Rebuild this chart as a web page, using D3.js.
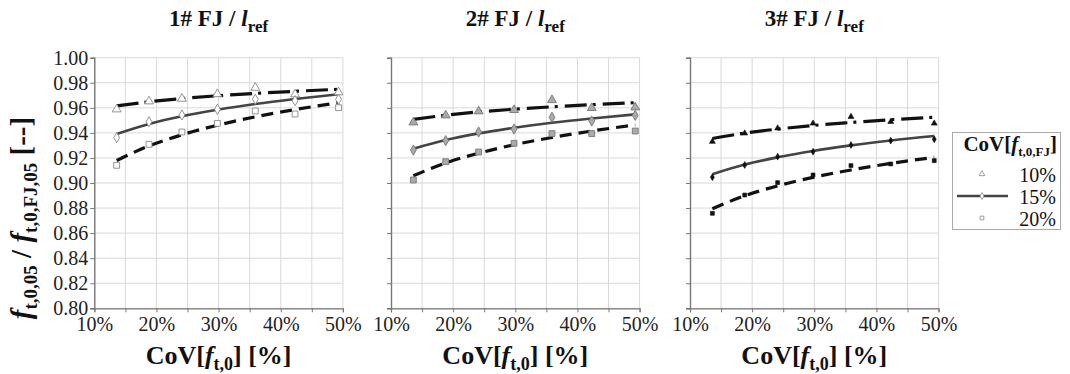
<!DOCTYPE html>
<html><head><meta charset="utf-8">
<script src="https://cdn.jsdelivr.net/npm/d3@7"></script>
<style>
html,body{margin:0;padding:0;background:#fff;}
svg{display:block;}
svg text{font-family:"Liberation Serif","Times New Roman",serif !important;}
</style></head>
<body>
<svg id="c" width="1070" height="374"></svg>
<script>
// ---------- data ----------
const panels = ["1#", "2#", "3#"];
const seriesNames = ["10%", "15%", "20%"];
const covX = [13.6, 18.8, 24.1, 29.8, 35.9, 42.3, 49.3];
// points (marker values) per panel
const p1_10 = [0.9588, 0.9652, 0.9673, 0.9710, 0.9761, 0.9708, 0.9724];
const p1_15 = [0.9362, 0.9489, 0.9543, 0.9588, 0.9668, 0.9657, 0.9668];
const p1_20 = [0.9141, 0.9309, 0.9407, 0.9476, 0.9575, 0.9551, 0.9601];
const p2_10 = [0.9484, 0.9540, 0.9572, 0.9583, 0.9662, 0.9599, 0.9604];
const p2_15 = [0.9263, 0.9338, 0.9407, 0.9431, 0.9524, 0.9495, 0.9540];
const p2_20 = [0.9024, 0.9170, 0.9247, 0.9317, 0.9394, 0.9394, 0.9415];
const p3_10 = [0.9330, 0.9397, 0.9437, 0.9476, 0.9529, 0.9489, 0.9476];
const p3_15 = [0.9046, 0.9144, 0.9210, 0.9250, 0.9303, 0.9338, 0.9349];
const p3_20 = [0.8758, 0.8904, 0.9003, 0.9064, 0.9139, 0.9152, 0.9178];
// trend lines read at the same CoV positions
const t1_10 = [0.9615, 0.9648, 0.9674, 0.9696, 0.9715, 0.9732, 0.9748];
const t1_15 = [0.9391, 0.9471, 0.9532, 0.9584, 0.9630, 0.9670, 0.9708];
const t1_20 = [0.9180, 0.9296, 0.9385, 0.9461, 0.9528, 0.9586, 0.9641];
const t2_10 = [0.9508, 0.9541, 0.9567, 0.9589, 0.9608, 0.9625, 0.9641];
const t2_15 = [0.9274, 0.9343, 0.9396, 0.9441, 0.9481, 0.9515, 0.9548];
const t2_20 = [0.9058, 0.9160, 0.9238, 0.9305, 0.9363, 0.9415, 0.9463];
const t3_10 = [0.9355, 0.9398, 0.9430, 0.9459, 0.9483, 0.9505, 0.9525];
const t3_15 = [0.9070, 0.9147, 0.9205, 0.9256, 0.9300, 0.9339, 0.9375];
const t3_20 = [0.8795, 0.8898, 0.8977, 0.9045, 0.9104, 0.9156, 0.9205];
const yTicks = [0.80, 0.82, 0.84, 0.86, 0.88, 0.90, 0.92, 0.94, 0.96, 0.98, 1.00];
const xTickLabels = [10, 20, 30, 40, 50];
const xGrid = [10, 15, 20, 25, 30, 35, 40, 45, 50];

const pointSets = [[p1_10, p1_15, p1_20], [p2_10, p2_15, p2_20], [p3_10, p3_15, p3_20]];
const trendSets = [[t1_10, t1_15, t1_20], [t2_10, t2_15, t2_20], [t3_10, t3_15, t3_20]];

// ---------- layout / style ----------
const FONT = '"Liberation Serif","Times New Roman",serif';
const svg = d3.select("#c").attr("font-family", FONT);
const lefts = [94.3, 391, 690];
const plotW = 248.6;
const yTop = 57.7, yBot = 308.3;
const y = d3.scaleLinear().domain([0.80, 1.00]).range([yBot, yTop]);

const lineStyles = [
  {stroke: "#111", width: 3.2, dash: "22,6,3,7"},
  {stroke: "#444", width: 2.6, dash: null},
  {stroke: "#111", width: 3.2, dash: "12,7"}
];
const symTypes = [d3.symbolTriangle, d3.symbolDiamond, d3.symbolSquare];
const symSizes = [34, 30, 34];
const markerStyles = [
  {fill: "#fff", stroke: "#888", sw: 0.9, scale: 1},
  {fill: "#aaa", stroke: "#777", sw: 0.9, scale: 1},
  {fill: "#111", stroke: "#111", sw: 0.6, scale: 0.45}
];

panels.forEach((name, pi) => {
  const x0 = lefts[pi];
  const x = d3.scaleLinear().domain([10, 50]).range([x0, x0 + plotW]);
  const g = svg.append("g");

  // grid
  g.selectAll(".hg").data(yTicks).join("line")
    .attr("x1", x0).attr("x2", x0 + plotW)
    .attr("y1", d => y(d)).attr("y2", d => y(d))
    .attr("stroke", "#d9d9d9").attr("stroke-width", 1);
  g.selectAll(".vg").data(xGrid.slice(1)).join("line")
    .attr("x1", d => x(d)).attr("x2", d => x(d))
    .attr("y1", yTop).attr("y2", yBot)
    .attr("stroke", "#d9d9d9").attr("stroke-width", 1);

  // y axis
  const ya = g.append("g").attr("transform", `translate(${x0},0)`)
    .call(d3.axisLeft(y).tickValues(yTicks).tickSize(4)
      .tickFormat(pi === 0 ? d3.format(".2f") : () => ""));
  ya.attr("font-family", FONT);
  ya.select(".domain").attr("stroke", "#777").attr("stroke-width", 1.4);
  ya.selectAll(".tick line").attr("stroke", "#777");
  ya.selectAll(".tick text").attr("font-size", 20).attr("fill", "#222").attr("x", -6);

  // x axis
  const xa = g.append("g").attr("transform", `translate(0,${yBot})`)
    .call(d3.axisBottom(x).tickValues(xGrid).tickSize(4)
      .tickFormat(d => xTickLabels.includes(d) ? d + "%" : ""));
  xa.attr("font-family", FONT);
  xa.select(".domain").attr("stroke", "#777").attr("stroke-width", 1.2);
  xa.selectAll(".tick line").attr("stroke", "#777");
  xa.selectAll(".tick text").attr("font-size", 20).attr("fill", "#222").attr("y", 9);

  // trend lines
  const line = d3.line().x((d, i) => x(covX[i])).y(d => y(d)).curve(d3.curveMonotoneX);
  trendSets[pi].forEach((vals, si) => {
    const st = lineStyles[si];
    g.append("path").attr("d", line(vals)).attr("fill", "none")
      .attr("stroke", st.stroke).attr("stroke-width", st.width)
      .attr("stroke-dasharray", st.dash);
  });

  // markers
  const ms = markerStyles[pi];
  pointSets[pi].forEach((vals, si) => {
    const sym = d3.symbol().type(symTypes[si]).size(symSizes[si] * ms.scale);
    g.selectAll(null).data(vals).join("path")
      .attr("transform", (d, i) => `translate(${x(covX[i])},${y(d)})`)
      .attr("d", sym).attr("fill", ms.fill).attr("stroke", ms.stroke)
      .attr("stroke-width", ms.sw);
  });

  // title
  const cx = x0 + plotW / 2;
  const t = svg.append("text").attr("x", cx).attr("y", 26)
    .attr("text-anchor", "middle").attr("font-size", 23).attr("font-weight", "bold").attr("fill", "#111");
  t.append("tspan").text(name + " FJ / ");
  t.append("tspan").attr("font-style", "italic").text("l");
  t.append("tspan").attr("font-size", 17).attr("dy", 6).text("ref");

  // x label
  const xl = svg.append("text").attr("x", cx).attr("y", 364)
    .attr("text-anchor", "middle").attr("font-size", 26).attr("font-weight", "bold").attr("fill", "#111");
  xl.append("tspan").text("CoV[");
  xl.append("tspan").attr("font-style", "italic").text("f");
  xl.append("tspan").attr("font-size", 18).attr("dy", 6).text("t,0");
  xl.append("tspan").attr("dy", -6).text("] [%]");
});

// y label
const yl = svg.append("text").attr("transform", "translate(31,218) rotate(-90)")
  .attr("text-anchor", "middle").attr("font-size", 29).attr("font-weight", "bold").attr("fill", "#111");
yl.append("tspan").attr("font-style", "italic").text("f");
yl.append("tspan").attr("font-size", 19).attr("dy", 6).text("t,0,05");
yl.append("tspan").attr("dy", -6).text(" / ");
yl.append("tspan").attr("font-style", "italic").text("f");
yl.append("tspan").attr("font-size", 19).attr("dy", 6).text("t,0,FJ,05");
yl.append("tspan").attr("dy", -6).text(" [--]");

// legend
const lg = svg.append("g");
lg.append("rect").attr("x", 952.5).attr("y", 132.5).attr("width", 108).attr("height", 97)
  .attr("fill", "#fff").attr("stroke", "#aaa").attr("stroke-width", 1);
const lt = lg.append("text").attr("x", 1057).attr("y", 151).attr("text-anchor", "end")
  .attr("font-size", 21).attr("font-weight", "bold").attr("fill", "#111");
lt.append("tspan").text("CoV[");
lt.append("tspan").attr("font-style", "italic").text("f");
lt.append("tspan").attr("font-size", 13).attr("dy", 5).text("t,0,FJ");
lt.append("tspan").attr("dy", -5).text("]");
const legY = [175, 197, 219];
seriesNames.forEach((nm, si) => {
  if (si === 1) {
    lg.append("line").attr("x1", 957).attr("x2", 1008).attr("y1", legY[si] - 1).attr("y2", legY[si] - 1)
      .attr("stroke", "#444").attr("stroke-width", 2.6);
  }
  lg.append("path").attr("transform", `translate(982,${legY[si] - 1})`)
    .attr("d", d3.symbol().type(symTypes[si]).size(14))
    .attr("fill", "#fff").attr("stroke", "#888").attr("stroke-width", 0.8);
  lg.append("text").attr("x", 1056).attr("y", legY[si] + 7).attr("text-anchor", "end")
    .attr("font-size", 20).attr("fill", "#111").text(nm);
});
</script>
</body></html>
